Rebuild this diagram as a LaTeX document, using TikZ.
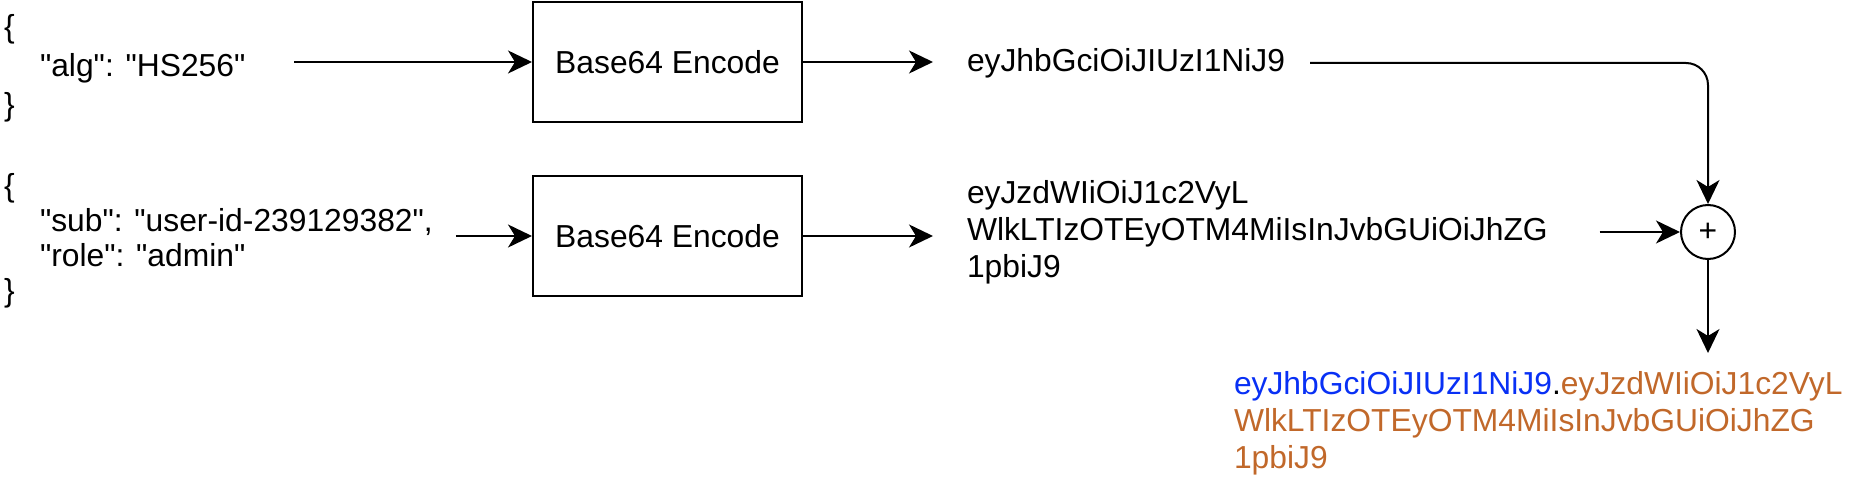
\documentclass[tikz,border=0pt]{standalone}
\usepackage{fontspec}
\setmainfont{Liberation Sans}[Ligatures=TeXOff]
\usepackage{xcolor}
\usetikzlibrary{arrows.meta}
\definecolor{hdrblue}{RGB}{8,48,245}
\definecolor{payorange}{RGB}{193,104,42}
\newcommand{\dq}{\symbol{34}}
\tikzset{
  txt/.style={font=\fontsize{15.9}{18.5}\selectfont,align=left,inner sep=0pt},
  encbox/.style={draw,font=\fontsize{15.9}{18.5}\selectfont,minimum width=134.5pt,minimum height=60pt,inner sep=0pt},
  sumnode/.style={draw,circle,minimum size=27pt,inner sep=0pt,font=\fontsize{15.9}{18.5}\selectfont}
}
\begin{document}
\begin{tikzpicture}[x=0.5pt,y=-0.5pt,line width=1pt,>={Stealth[length=12pt,width=11.5pt,inset=3.5pt]}]
\useasboundingbox (0,0) rectangle (1864,492);
% inputs
\node[txt,anchor=west,font=\fontsize{15.9}{19.5}\selectfont] (hdr) at (3,68) {\{\\\hspace*{18pt}\dq alg\dq: \dq HS256\dq\\\}};
\node[txt,anchor=west,font=\fontsize{15.9}{17.5}\selectfont] (pay) at (3,241) {\{\\\hspace*{18pt}\dq sub\dq: \dq user-id-239129382\dq,\\\hspace*{18pt}\dq role\dq: \dq admin\dq\\\}};
% encoders
\node[encbox] (enca) at (667.5,62) {Base64 Encode};
\node[encbox] (encb) at (667.5,236) {Base64 Encode};
% encoded parts
\node[txt,anchor=west] (hdrenc) at (966,63) {eyJhbGciOiJIUzI1NiJ9};
\node[txt,anchor=west] (payenc) at (966,232) {eyJzdWIiOiJ1c2VyL\\WlkLTIzOTEyOTM4MiIsInJvbGUiOiJhZG\\1pbiJ9};
\node[sumnode] (plus) at (1708,232) {+};
\coordinate (jwtin) at (1708,353);
% result
\node[txt,anchor=west] (jwt) at (1233,423) {\textcolor{hdrblue}{eyJhbGciOiJIUzI1NiJ9}.\textcolor{payorange}{eyJzdWIiOiJ1c2VyL}\\
\textcolor{payorange}{WlkLTIzOTEyOTM4MiIsInJvbGUiOiJhZG}\\\textcolor{payorange}{1pbiJ9}};
% connectors
\draw[->] ([xshift=24pt]hdr.east |- enca.west) -- (enca.west);
\draw[->] ([xshift=11pt]pay.east |- encb.west) -- (encb.west);
\draw[->] (enca.east) -- ([xshift=-16.5pt]hdrenc.west |- enca.east);
\draw[->] (encb.east) -- ([xshift=-16.5pt]payenc.west |- encb.east);
\draw[->,rounded corners=11pt] ([xshift=12pt]hdrenc.east) -| (plus.north);
\draw[->] ([xshift=25.5pt]payenc.east |- plus.west) -- (plus.west);
\draw[->] (plus.south) -- (jwtin);
\end{tikzpicture}
\end{document}
